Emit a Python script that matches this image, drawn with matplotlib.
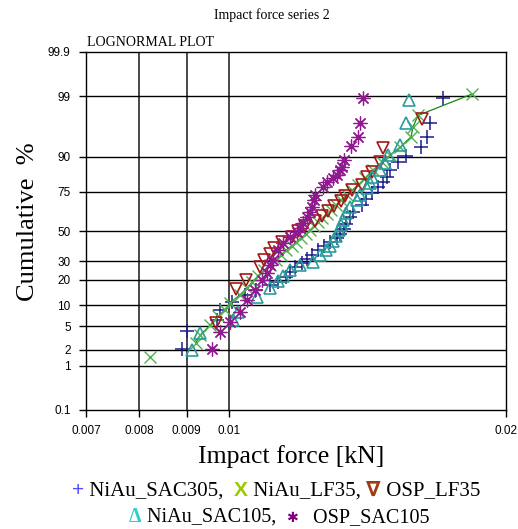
import statistics
import numpy as np
import matplotlib
matplotlib.use("Agg")
import matplotlib.pyplot as plt
from matplotlib.offsetbox import TextArea, HPacker, AnchoredOffsetbox

# impact force [kN] vs cumulative %
sac305_niau_x = [0.008899, 0.009010, 0.009712, 0.009785, 0.010083, 0.010417, 0.010707, 0.011089,
                 0.011313, 0.011541, 0.011657, 0.011804, 0.012012, 0.012163, 0.012317, 0.012502,
                 0.012691, 0.012883, 0.013110, 0.013209, 0.013341, 0.013408, 0.013543, 0.013646,
                 0.013956, 0.014096, 0.014309, 0.014526, 0.014708, 0.014856, 0.014968, 0.015271,
                 0.015579, 0.016174, 0.016419, 0.016542, 0.017089]
sac305_niau_y = [2.1, 4.2, 6.2, 8.6, 11.0, 13.5, 15.4, 17.6, 18.9, 21.4, 24.0, 26.7, 29.0, 31.5,
                 33.9, 37.1, 39.8, 42.5, 45.2, 47.9, 51.4, 54.8, 59.6, 62.8, 67.3, 70.9, 74.4,
                 77.6, 80.1, 82.4, 85.4, 88.3, 90.2, 92.6, 94.8, 96.9, 98.9]

lf35_niau_x = [0.008215, 0.009215, 0.009309, 0.009544, 0.009737, 0.009909, 0.010033, 0.010287,
               0.010469, 0.010601, 0.010761, 0.010924, 0.011089, 0.011256, 0.011398, 0.011541,
               0.011715, 0.011834, 0.011982, 0.012133, 0.012255, 0.012378, 0.012502, 0.012628,
               0.012787, 0.012915, 0.013077, 0.013242, 0.013442, 0.013612, 0.013817, 0.014062,
               0.014345, 0.014671, 0.014968, 0.015347, 0.015775, 0.015854, 0.016053, 0.018374]
lf35_niau_y = [1.5, 2.7, 3.6, 5.2, 7.1, 8.6, 10.7, 13.5, 16.3, 18.9, 21.9, 25.0, 27.9, 30.8,
               33.9, 37.1, 39.8, 42.5, 45.2, 47.9, 50.7, 53.4, 56.2, 58.9, 61.5, 64.1, 67.3,
               70.4, 73.3, 76.0, 78.6, 82.0, 85.4, 88.3, 90.5, 92.6, 94.8, 96.4, 97.7, 99.1]

lf35_osp_x = [0.009688, 0.010185, 0.010443, 0.010815, 0.010924, 0.011089, 0.011200, 0.011426,
              0.011715, 0.011892, 0.012102, 0.012409, 0.012628, 0.012819, 0.013012, 0.013242,
              0.013375, 0.013612, 0.013956, 0.014132, 0.014309, 0.014598, 0.014708, 0.016215]
lf35_osp_y = [5.6, 15.8, 19.9, 26.7, 30.8, 34.6, 38.4, 42.5, 45.9, 50.0, 53.4, 56.9, 60.2,
              63.5, 66.7, 69.8, 72.7, 76.0, 78.6, 82.4, 84.6, 88.3, 92.4, 97.3]

sac105_niau_x = [0.009124, 0.009309, 0.010109, 0.010236, 0.010734, 0.011089, 0.011313, 0.011455,
                 0.011657, 0.011952, 0.012347, 0.012565, 0.012755, 0.012883, 0.012980, 0.013077,
                 0.013176, 0.013242, 0.013308, 0.013408, 0.013543, 0.013783, 0.013886, 0.014132,
                 0.014238, 0.014309, 0.014598, 0.014782, 0.014893, 0.015347, 0.015579, 0.015696]
sac105_niau_y = [2.0, 3.9, 6.2, 8.1, 12.7, 16.3, 19.4, 21.9, 25.0, 27.9, 29.6, 33.9, 37.1, 39.8,
                 43.1, 46.6, 50.7, 54.1, 57.5, 62.2, 66.1, 70.4, 73.3, 77.1, 79.6, 82.4, 85.4,
                 88.0, 90.5, 93.1, 96.9, 98.8]

sac105_osp_x = [0.009592, 0.009785, 0.010033, 0.010287, 0.010469, 0.010681, 0.010869, 0.011006,
                0.011089, 0.011172, 0.011313, 0.011455, 0.011657, 0.011863, 0.011952, 0.012042,
                0.012163, 0.012255, 0.012317, 0.012378, 0.012409, 0.012660, 0.012787, 0.012980,
                0.013110, 0.013209, 0.013275, 0.013341, 0.013578, 0.013817, 0.013886, 0.013991]
sac105_osp_y = [2.1, 4.1, 5.8, 8.1, 11.7, 15.4, 19.9, 23.4, 27.9, 30.8, 37.1, 41.8, 45.9, 49.3,
                52.1, 55.5, 59.6, 62.8, 66.1, 70.4, 73.3, 77.6, 80.1, 82.0, 83.3, 85.4, 86.5,
                89.0, 92.9, 94.8, 96.9, 98.9]

x_ticks = [0.007, 0.008, 0.009, 0.01, 0.02]
x_labels = ["0.007", "0.008", "0.009", "0.01", "0.02"]
y_ticks = [0.1, 1, 2, 5, 10, 20, 30, 50, 75, 90, 99, 99.9]
y_labels = ["0.1", "1", "2", "5", "10", "20", "30", "50", "75", "90", "99", "99.9"]

nd = statistics.NormalDist()
_ppf = np.vectorize(nd.inv_cdf, otypes=[float])
_cdf = np.vectorize(nd.cdf, otypes=[float])


def probit(p):
    p = np.clip(np.asarray(p, dtype=float) / 100.0, 1e-12, 1 - 1e-12)
    return _ppf(p)


def probit_inv(z):
    return _cdf(np.asarray(z, dtype=float)) * 100.0


serif = "Liberation Serif"
sans = "Liberation Sans"

fig = plt.figure(figsize=(5.18, 5.29), dpi=100)
W, H = 518, 529
ax = fig.add_axes([86 / W, 1 - 410 / H, (506 - 86) / W, (410 - 52) / H])

ax.set_xscale("log")
ax.set_yscale("function", functions=(probit, probit_inv))

ax.plot(sac305_niau_x, sac305_niau_y, ls="none", marker="+", ms=10, mew=1.1, color="#1c1c8c", zorder=3)
ax.plot(lf35_niau_x[1:], lf35_niau_y[1:], ls="-", lw=0.9, color="#128a12", zorder=3)
ax.plot(lf35_niau_x, lf35_niau_y, ls="none", marker="x", ms=8, mew=1.0, color="#52b052", zorder=3)
ax.plot(lf35_osp_x, lf35_osp_y, ls="none", marker="v", ms=9, mfc="none", mec="#a31818", mew=1.2, zorder=4)
ax.plot(sac105_niau_x, sac105_niau_y, ls="none", marker="^", ms=9, mfc="none", mec="#2a9c9c", mew=1.2, zorder=4)
ax.plot(sac105_osp_x, sac105_osp_y, ls="none", marker=(8, 2, 0), ms=10, mew=0.9, color="#8e1a8e", zorder=5)
ax.plot(sac105_osp_x, sac105_osp_y, ls="none", marker="o", ms=3, color="#8e1a8e", zorder=5)

ax.set_xlim(0.007, 0.02)
ax.set_ylim(0.1, 99.9)
ax.set_xticks(x_ticks)
ax.set_xticklabels(x_labels)
ax.xaxis.set_minor_locator(matplotlib.ticker.NullLocator())
ax.set_yticks(y_ticks)
ax.set_yticklabels(y_labels)
ax.yaxis.set_minor_locator(matplotlib.ticker.NullLocator())

for v in x_ticks[1:4]:
    ax.axvline(v, color="#3a3a3a", lw=1.3, zorder=1)
for v in y_ticks[1:-1]:
    ax.axhline(v, color="black", lw=1.0, zorder=1)

ax.tick_params(axis="both", direction="out", length=5, width=1, colors="black", labelsize=8.5, pad=6)
for lab in ax.get_xticklabels() + ax.get_yticklabels():
    lab.set_fontfamily(sans)
for s in ax.spines.values():
    s.set_color("black")
    s.set_linewidth(1.0)

fig.text(272 / W, 1 - 15 / H, "Impact force series 2", ha="center", va="center", fontsize=10, family=serif)
fig.text(87 / W, 1 - 49 / H, "LOGNORMAL PLOT", ha="left", va="bottom", fontsize=10, family=serif)
fig.text(28 / W, 1 - 222 / H, "Cumulative  %", rotation=90, ha="center", va="center", fontsize=19, family=serif)
fig.text(291 / W, 1 - 457 / H, "Impact force [kN]", ha="center", va="center", fontsize=18.5, family=serif)


def caption_line(parts, cx, cy, size):
    boxes = [TextArea(t, textprops=dict(color=c, fontsize=size * k, family=f, fontweight=w))
             for t, c, f, w, k in parts]
    pack = HPacker(children=boxes, align="baseline", pad=0, sep=0)
    anch = AnchoredOffsetbox(loc="center", child=pack, pad=0, borderpad=0, frameon=False,
                             bbox_to_anchor=(cx / W, 1 - cy / H), bbox_transform=fig.transFigure)
    fig.add_artist(anch)


caption_line([("+", "#4d4dff", sans, "normal", 1.0), (" NiAu_SAC305,  ", "black", serif, "normal", 1.0),
              ("X", "#99cc00", sans, "bold", 1.0), (" NiAu_LF35, ", "black", serif, "normal", 1.0),
              ("\u2207", "#a03a10", "DejaVu Sans", "bold", 1.0), (" OSP_LF35", "black", serif, "normal", 1.0)],
             276, 490, 15)
caption_line([("\u0394", "#33cccc", serif, "bold", 1.0), (" NiAu_SAC105,  ", "black", serif, "normal", 1.0),
              ("\u2731", "#800080", "DejaVu Sans", "normal", 0.7), ("   OSP_SAC105", "black", serif, "normal", 1.0)],
             279, 517, 14.5)

fig.savefig("out.png", dpi=100, facecolor="white")
